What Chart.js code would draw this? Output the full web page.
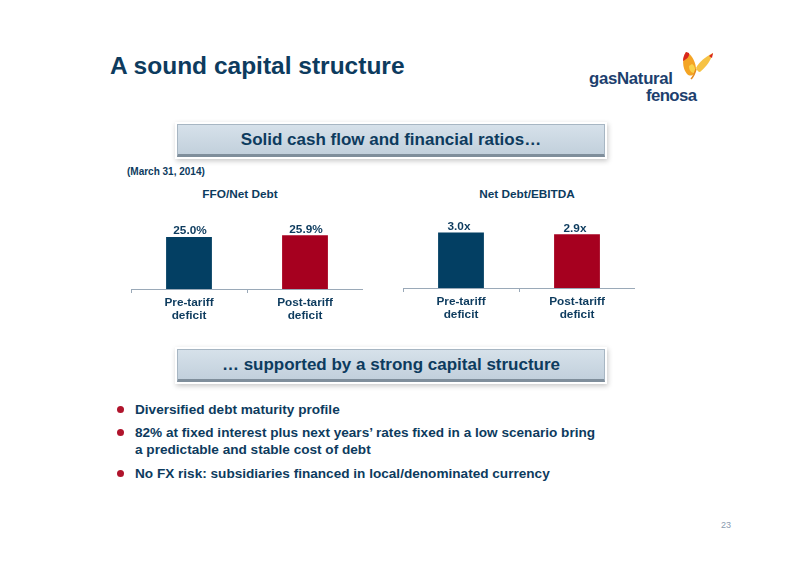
<!DOCTYPE html>
<html>
<head>
<meta charset="utf-8">
<script src="https://cdn.jsdelivr.net/npm/chart.js@4.4.1/dist/chart.umd.min.js"></script>
<style>
  html, body { margin:0; padding:0; background:#fff; }
  body { width:800px; height:565px; position:relative; overflow:hidden;
         font-family:"Liberation Sans", Arial, Helvetica, sans-serif; color:#0d3b5e; }
  .abs { position:absolute; white-space:nowrap; }
  #title { left:110px; top:52px; font-size:24.5px; font-weight:bold; color:#0d3b5e; }
  .box { position:absolute; left:177px; width:426px; height:29px;
         background:linear-gradient(#d6e1ea, #c2d0dc);
         border:1px solid #a7b6c3; border-bottom:3px solid #7f8e9b;
         box-shadow:0 0 0 2px #fff, 1px 2px 5px 2px rgba(0,0,0,0.22);
         font-size:17px; font-weight:bold; color:#0d3b5e; text-align:center; line-height:29px; }
  #box1 { top:124px; }
  #box2 { top:349px; }
  #asof { left:127px; top:166px; font-size:10px; font-weight:bold; }
  .ctitle { font-size:11.8px; font-weight:bold; text-align:center; width:200px; }
  canvas { position:absolute; }
  .bullet { position:absolute; left:135px; font-size:13.6px; font-weight:bold; line-height:17px; color:#0d3b5e; }
  .dot { position:absolute; width:7px; height:7px; border-radius:50%; background:#b0142c; }
  #pg { left:721px; top:520px; font-size:9px; color:#8a9bb0; }
  #logo1 { left:589px; top:71px; font-size:16.8px; line-height:16.5px; font-weight:bold; color:#1d3f6e; letter-spacing:-0.3px; }
  #logo2 { left:646px; top:88px; font-size:16.8px; line-height:16.5px; font-weight:bold; color:#1d3f6e; letter-spacing:-0.6px; }
</style>
</head>
<body>
<div id="title" class="abs">A sound capital structure</div>

<div id="logo1" class="abs">gasNatural</div>
<div id="logo2" class="abs">fenosa</div>
<svg class="abs" style="left:681px;top:49px" width="36" height="32" viewBox="0 0 36 32">
  <path d="M5 3 C1 9 1 19 6 25 C10 29 15 25 15 19 C14 11 10 5 5 3 Z" fill="#f4a424"/>
  <path d="M5 3 C3 6 2 9 2 12 C6 10 9 7 8 4 Z" fill="#d8261d"/>
  <path d="M8 17 C8 21 10 24 13 24 C15 21 14 17 11 15 Z" fill="#f9d34a"/>
  <path d="M15 19 C18 13 24 8 32 4 C30 11 26 17 19 23 C17 23 16 21 15 19 Z" fill="#f6c244"/>
  <path d="M32 4 L28 7 L31 9 Z" fill="#d8261d"/>
  <path d="M15 20 C14 24 12 28 10 30" stroke="#e58a1f" stroke-width="1.5" fill="none"/>
</svg>

<div id="box1" class="box">Solid cash flow and financial ratios…</div>
<div id="asof" class="abs">(March 31, 2014)</div>
<div class="abs ctitle" style="left:140px;top:187px">FFO/Net Debt</div>
<div class="abs ctitle" style="left:427px;top:187px">Net Debt/EBITDA</div>

<canvas id="c1" width="232" height="129" style="left:131px;top:200px;width:232px;height:129px"></canvas>
<canvas id="c2" width="232" height="129" style="left:403px;top:199px;width:232px;height:129px"></canvas>

<div id="box2" class="box">… supported by a strong capital structure</div>

<div class="dot" style="left:117px;top:406px"></div>
<div class="bullet" style="top:401px">Diversified debt maturity profile</div>
<div class="dot" style="left:117px;top:429px"></div>
<div class="bullet" style="top:424px">82% at fixed interest plus next years’ rates fixed in a low scenario bring<br>a predictable and stable cost of debt</div>
<div class="dot" style="left:117px;top:470px"></div>
<div class="bullet" style="top:465px">No FX risk: subsidiaries financed in local/denominated currency</div>

<div id="pg" class="abs">23</div>

<script>
const categories = [["Pre-tariff", "deficit"], ["Post-tariff", "deficit"]];
const ffoNetDebt = [25.0, 25.9];
const ffoLabels = ["25.0%", "25.9%"];
const netDebtEbitda = [3.0, 2.9];
const ebitdaLabels = ["3.0x", "2.9x"];
const barColors = ["#033f63", "#a6001f"];

const DARK = "#0d3b5e";
const FONT = "'Liberation Sans', Arial, sans-serif";

const valueLabelPlugin = {
  id: "valueLabels",
  afterDatasetsDraw(chart, args, opts) {
    const ctx = chart.ctx;
    const meta = chart.getDatasetMeta(0);
    ctx.save();
    ctx.font = "bold 11.8px " + FONT;
    ctx.fillStyle = DARK;
    ctx.textAlign = "center";
    ctx.textBaseline = "bottom";
    meta.data.forEach((bar, i) => {
      ctx.fillText(opts.labels[i], bar.x + (opts.dx || 0), bar.y);
    });
    ctx.restore();
  }
};

function makeChart(id, values, labels, maxY, dx) {
  return new Chart(document.getElementById(id), {
    type: "bar",
    data: {
      labels: categories,
      datasets: [{ data: values, backgroundColor: barColors, borderWidth: 0,
                   categoryPercentage: 1.0, barPercentage: 0.395 }]
    },
    options: {
      responsive: false,
      animation: false,
      layout: { padding: 0 },
      plugins: { legend: { display: false }, tooltip: { enabled: false },
                 valueLabels: { labels: labels, dx: dx } },
      scales: {
        y: { display: false, min: 0, max: maxY },
        x: {
          offset: true,
          grid: { offset: true, drawOnChartArea: false, drawTicks: true, tickLength: 4,
                  color: "#9aa9b8" },
          border: { display: true, color: "#9aa9b8", width: 1 },
          ticks: { color: DARK, padding: 3, font: { family: FONT, size: 11.8, weight: "bold", lineHeight: 1.1 } },
          afterFit(scale) { scale.height = 40; }
        }
      }
    },
    plugins: [valueLabelPlugin]
  });
}

makeChart("c1", ffoNetDebt, ffoLabels, 42.8, 1);
makeChart("c2", netDebtEbitda, ebitdaLabels, 4.81, -2);
</script>
</body>
</html>
